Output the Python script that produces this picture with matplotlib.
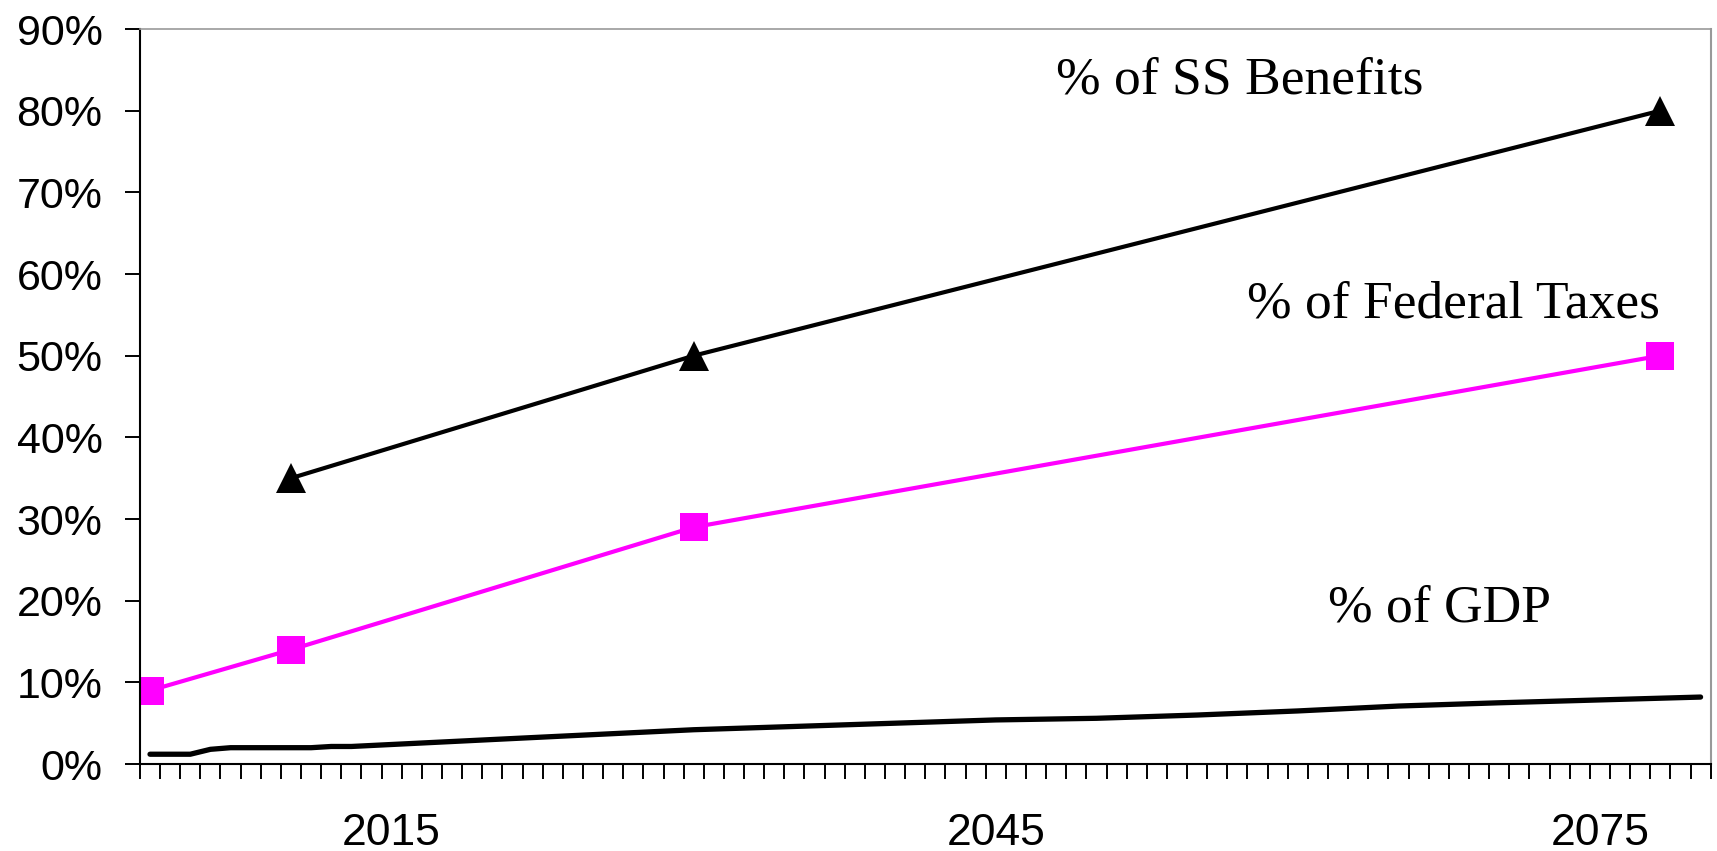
import numpy as np
import matplotlib.pyplot as plt
from matplotlib.ticker import FuncFormatter

# projection years run 2003..2080, one category per year
first_year = 2003
last_year = 2080

# share of Social Security benefits
ss_years = [2010, 2030, 2078]
ss_pct = [35, 50, 80]

# share of federal taxes
fed_years = [2003, 2010, 2030, 2078]
fed_pct = [9, 14, 29, 50]

# share of GDP (points where the curve bends)
gdp_years = [2003, 2005, 2006, 2007, 2011, 2012, 2013, 2020, 2025, 2030,
             2040, 2045, 2050, 2055, 2060, 2065, 2070, 2080]
gdp_pct = [1.2, 1.2, 1.8, 2.0, 2.0, 2.15, 2.15, 3.0, 3.6, 4.2,
           5.0, 5.4, 5.6, 6.0, 6.5, 7.1, 7.5, 8.2]

year_labels = [2015, 2045, 2075]
y_ticks = [0, 10, 20, 30, 40, 50, 60, 70, 80, 90]

fig = plt.figure(figsize=(17.17, 8.51), dpi=100)
ax = fig.add_axes([0.0815, 0.1022, 0.9148, 0.8637])

ax.plot(ss_years, ss_pct, color='black', lw=3.0, marker='^', ms=21, mew=0,
        solid_capstyle='round')
ax.plot(fed_years, fed_pct, color='#FF00FF', lw=3.0, marker='s', ms=20, mew=0)
ax.plot(gdp_years, gdp_pct, color='black', lw=3.8, solid_capstyle='round',
        solid_joinstyle='round')

serif = ['Liberation Serif', 'DejaVu Serif']
ax.text(2048.0, 83.7, '% of SS Benefits', fontsize=38.5, family=serif, ha='left', va='center')
ax.text(2057.5, 56.3, '% of Federal Taxes', fontsize=38.5, family=serif, ha='left', va='center')
ax.text(2061.5, 19.1, '% of GDP', fontsize=38.5, family=serif, ha='left', va='center')

ax.set_xlim(first_year - 0.5, last_year + 0.5)
ax.set_ylim(0, 90)

# tick marks sit on category boundaries, labels on the categories themselves
bounds = np.arange(first_year - 0.5, last_year + 1.0, 1.0)
ax.set_xticks(bounds)
ax.set_xticklabels([])
ax.tick_params(axis='x', which='major', direction='out', length=11, width=1.4, color='black')
ax.set_xticks(year_labels, minor=True)
ax.set_xticklabels([str(y) for y in year_labels], minor=True)
ax.tick_params(axis='x', which='minor', length=0, pad=35, labelsize=32)

ax.set_yticks(y_ticks)
ax.yaxis.set_major_formatter(FuncFormatter(lambda v, p: f'{int(v)}%'))
ax.tick_params(axis='y', direction='out', length=11, width=1.4, pad=16, labelsize=31)

for t in ax.get_xticklabels(minor=True) + ax.get_yticklabels():
    t.set_family(['Liberation Sans', 'DejaVu Sans'])

ax.spines['left'].set_linewidth(1.5)
ax.spines['bottom'].set_linewidth(1.5)
ax.spines['top'].set_color('#999999')
ax.spines['right'].set_color('#999999')
ax.spines['top'].set_linewidth(1.2)
ax.spines['right'].set_linewidth(1.5)

fig.savefig('out.png', dpi=100)
